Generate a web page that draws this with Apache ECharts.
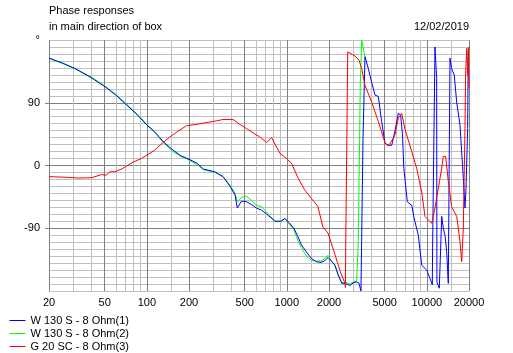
<!DOCTYPE html>
<html>
<head>
<meta charset="UTF-8">
<title>Phase responses</title>
<style>
    html, body { margin: 0; padding: 0; background: #fff; }
    #chart { width: 513px; height: 353px; }
</style>
</head>
<body>
<div id="chart"></div>
<script src="https://cdn.jsdelivr.net/npm/echarts@6/dist/echarts.min.js"></script>
<script>
    // frequency grid (Hz) - dark and light lines
    const majorFreqs = [20, 50, 100, 200, 500, 1000, 2000, 5000, 10000, 20000];
    const minorFreqs = [30, 40, 60, 70, 80, 90, 150, 300, 400, 600, 700, 800, 900, 1500,
        3000, 4000, 6000, 7000, 8000, 9000, 15000];
    const phaseTicks = [-90, 0, 90];
    const phaseLabels = [-90, 0, 90, 180];

    const seriesNames = ['W 130 S - 8 Ohm(1)', 'W 130 S - 8 Ohm(2)', 'G 20 SC - 8 Ohm(3)'];

    // W 130 S (1)
    const blueFreq = [20, 25, 30.7, 40, 50.2, 60, 69.8, 85, 100, 114,
        131, 154, 175, 200, 230, 253, 306, 350, 393, 426,
        443, 474, 515, 560, 606, 660, 740, 823, 904, 967,
        1040, 1122, 1200, 1271, 1380, 1493, 1620, 1755, 1850, 1968,
        2100, 2208, 2320, 2466, 2602, 2826, 3000, 3154, 3276, 3384,
        3420, 3500, 3614, 3817, 4050, 4262, 4500, 4757, 5024, 5307,
        5610, 5922, 6252, 6500, 6700, 6850, 7250, 7800, 8100, 8690,
        9186, 9975, 10530, 10940, 11000, 11430, 11750, 11800, 12270, 12770,
        13100, 13480, 13860, 14230, 14630, 15030, 15690, 16330, 17250, 18210,
        18720, 19040, 19560, 19760, 20000];
    const bluePhase = [154, 147, 139, 126, 113, 101, 89, 73, 58, 48,
        34, 22, 14, 9, 3, -5, -9, -16, -30, -42,
        -61, -51, -52, -56, -61, -64, -72, -80, -80, -76,
        -82, -90, -102, -114, -124, -133, -138, -139, -137, -132,
        -138, -143, -156, -169, -169, -172, -168, -167, -169, -180,
        -109, 40, 156, 139, 118, 101, 99, 63, 32, 29,
        29, 50, 75, 72, 44, -4, -52, -57, -75, -100,
        -143, -150, -162, -171, -114, 170, 125, -167, -176, -73,
        -90, -100, -124, -169, 154, 139, 130, 91, 58, -18,
        -61, -33, 53, 163, 170];

    // W 130 S (2)
    const greenFreq = [20, 30.7, 40, 50.2, 60, 69.8, 85, 100, 114, 131,
        154, 175, 200, 230, 253, 306, 350, 393, 426, 443,
        474, 515, 560, 606, 660, 740, 823, 904, 967, 1040,
        1122, 1200, 1271, 1380, 1493, 1620, 1755, 1850, 1968, 2100,
        2208, 2320, 2466, 2602, 2826, 3000, 3154, 3238, 3346, 3424,
        3614];
    const greenPhase = [154, 139, 127, 114, 102, 90, 74, 59, 48, 33,
        20, 13, 8, 1, -6, -10, -16, -28, -40, -52,
        -46, -44, -50, -57, -59, -70, -80, -80, -76, -84,
        -92, -108, -118, -130, -136, -137, -137, -134, -129, -138,
        -144, -157, -168, -167, -170, -167, -166, -109, 115, 180,
        156];

    // G 20 SC (3)
    const redFreq = [20, 27.5, 32.3, 40.4, 47.5, 51, 54.5, 59, 66, 71.5,
        80, 91.5, 102, 114, 124, 146, 172, 192, 226, 274,
        314, 350, 413, 461, 515, 592, 641, 717, 778, 892,
        996, 1081, 1203, 1340, 1493, 1667, 1808, 1968, 2208, 2405,
        2602, 2620, 2632, 2722, 3068, 3276, 3424, 3614, 4036, 4500,
        4757, 5024, 5307, 5757, 5922, 6252, 6610, 6982, 7798, 8458,
        9186, 9700, 10832, 11430, 12070, 12770, 13100, 13630, 14230, 15030,
        16330, 17250, 17740, 18210, 18720, 18920, 19260, 19560, 19800, 20000];
    const redPhase = [-16, -17, -18, -17.5, -13, -14, -9, -9, -5, -1,
        5, 10, 16, 22, 29, 41, 51, 57, 59, 62,
        64, 66, 66, 59, 53, 45, 41, 33, 40, 17.5,
        10, 3, -18, -35, -47, -59, -88, -97, -128, -152,
        -169, -175, -118, 163, 157, 151, 139, 115, 91, 63,
        48, 32, 28, 39, 44, 68, 75, 52, 20, -4,
        -38, -73, -83, -61, -33, -4, 13, 13, -23, -59,
        -73, -109, -138, -90, 53, 130, 168, 130, 168, 111];

    const zip = (f, p) => f.map((v, i) => [v, p[i]]);

    const font = 'Liberation Sans';
    const dark = '#808080';
    const light = '#c0c0c0';

    const lineSeries = (name, color, f, p) => ({
        name: name,
        type: 'line',
        xAxisIndex: 1,
        yAxisIndex: 1,
        data: zip(f, p),
        color: color,
        symbol: 'none',
        showSymbol: false,
        itemStyle: { color: color },
        lineStyle: { color: color, width: 1 },
        silent: true
    });

    let chart = echarts.init(document.getElementById('chart'));
    chart.setOption({
        animation: false,
        backgroundColor: '#fff',
        textStyle: { fontFamily: font },
        grid: { left: 49, right: 44, top: 40, bottom: 62 },
        graphic: [
            { type: 'text', left: 49, top: 5, style: { text: 'Phase responses', font: '11px ' + font, fill: '#000' } },
            { type: 'text', left: 49, top: 21, style: { text: 'in main direction of box', font: '11px ' + font, fill: '#000' } },
            { type: 'text', right: 44, top: 21, style: { text: '12/02/2019', font: '11px ' + font, fill: '#000' } }
        ],
        legend: {
            orient: 'vertical',
            left: 9,
            top: 314,
            padding: 0,
            itemGap: 0,
            itemWidth: 16,
            itemHeight: 13,
            itemStyle: { opacity: 0 },
            lineStyle: { width: 1 },
            data: seriesNames,
            textStyle: { fontSize: 11, lineHeight: 13, color: '#000', fontFamily: font }
        },
        xAxis: [{
            type: 'log',
            position: 'bottom',
            min: 20,
            max: 20000,
            axisLine: { show: false },
            axisTick: { show: true, customValues: minorFreqs, length: 5, lineStyle: { color: light } },
            axisLabel: { show: false },
            splitLine: { show: true, lineStyle: { color: light } }
        }, {
            type: 'log',
            position: 'bottom',
            min: 20,
            max: 20000,
            axisLine: { show: false },
            axisTick: { show: true, customValues: majorFreqs, length: 5, lineStyle: { color: dark } },
            axisLabel: {
                customValues: majorFreqs,
                margin: 6,
                fontSize: 11,
                color: '#000',
                fontFamily: font,
                formatter: v => String(Math.round(v))
            },
            splitLine: { show: true, lineStyle: { color: dark } }
        }],
        yAxis: [{
            type: 'value',
            position: 'left',
            min: -180,
            max: 180,
            interval: 10,
            axisLine: { show: false },
            axisTick: { show: false },
            axisLabel: { show: false },
            splitLine: { show: true, lineStyle: { color: light } }
        }, {
            type: 'value',
            position: 'left',
            min: -180,
            max: 180,
            interval: 90,
            axisLine: { show: false },
            axisTick: { show: true, customValues: phaseTicks, length: 4, lineStyle: { color: dark } },
            axisLabel: {
                customValues: phaseLabels,
                margin: 9,
                fontSize: 11,
                color: '#000',
                fontFamily: font,
                formatter: v => (v === 180 ? '°' : String(v))
            },
            splitLine: { show: true, lineStyle: { color: dark } }
        }],
        series: [
            lineSeries(seriesNames[1], '#00ff00', greenFreq, greenPhase),
            lineSeries(seriesNames[0], '#0000ff', blueFreq, bluePhase),
            lineSeries(seriesNames[2], '#ff0000', redFreq, redPhase)
        ]
    });
</script>
</body>
</html>
